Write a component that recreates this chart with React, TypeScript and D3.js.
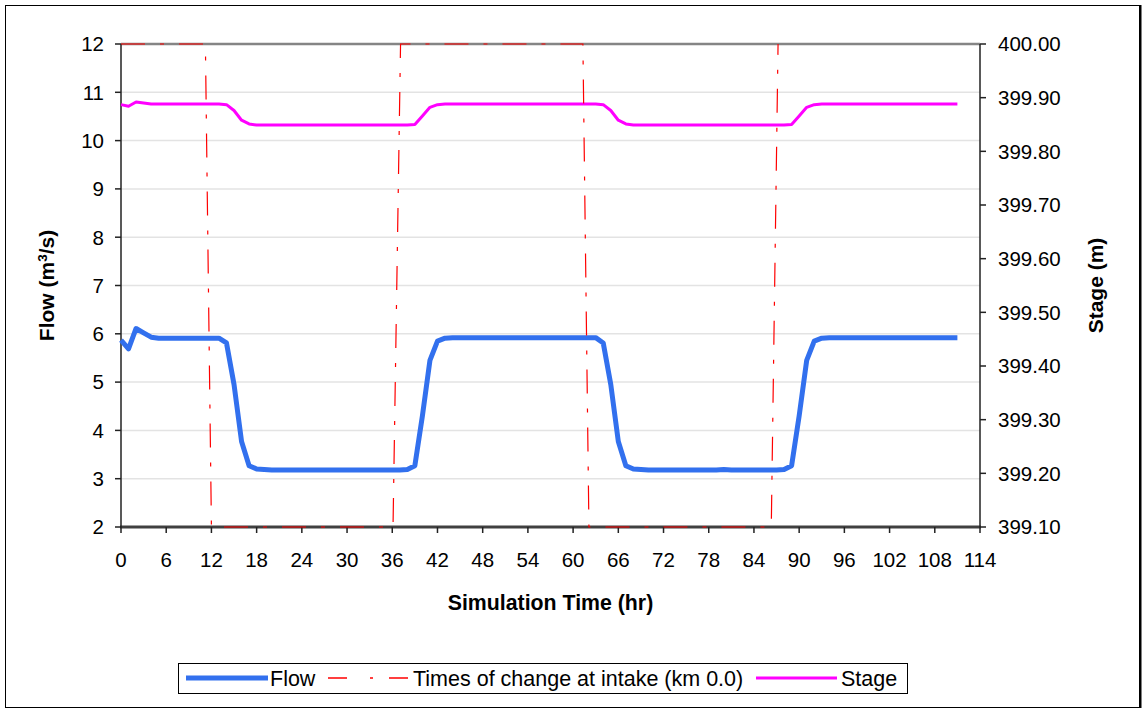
import React from "react";
import * as d3 from "d3";

// Hourly simulated flow at the intake (m3/s), hour = index
const flowValues: number[] = [
  5.87, 5.69, 6.11, 6.02, 5.93, 5.91, 5.91, 5.91, 5.91, 5.91,
  5.91, 5.91, 5.91, 5.91, 5.81, 4.95, 3.77, 3.27, 3.2, 3.19,
  3.18, 3.18, 3.18, 3.18, 3.18, 3.18, 3.18, 3.18, 3.18, 3.18,
  3.18, 3.18, 3.18, 3.18, 3.18, 3.18, 3.18, 3.18, 3.19, 3.27,
  4.3, 5.45, 5.85, 5.91, 5.92, 5.92, 5.92, 5.92, 5.92, 5.92,
  5.92, 5.92, 5.92, 5.92, 5.92, 5.92, 5.92, 5.92, 5.92, 5.92,
  5.92, 5.92, 5.92, 5.92, 5.81, 4.95, 3.77, 3.27, 3.2, 3.19,
  3.18, 3.18, 3.18, 3.18, 3.18, 3.18, 3.18, 3.18, 3.18, 3.18,
  3.19, 3.18, 3.18, 3.18, 3.18, 3.18, 3.18, 3.18, 3.19, 3.27,
  4.3, 5.45, 5.85, 5.91, 5.92, 5.92, 5.92, 5.92, 5.92, 5.92,
  5.92, 5.92, 5.92, 5.92, 5.92, 5.92, 5.92, 5.92, 5.92, 5.92,
  5.92, 5.92,
];

// Hourly water stage (m), hour = index
const stageValues: number[] = [
  399.887, 399.884, 399.892, 399.89, 399.888, 399.888, 399.888, 399.888, 399.888, 399.888,
  399.888, 399.888, 399.888, 399.888, 399.887, 399.876, 399.858, 399.851, 399.849, 399.849,
  399.849, 399.849, 399.849, 399.849, 399.849, 399.849, 399.849, 399.849, 399.849, 399.849,
  399.849, 399.849, 399.849, 399.849, 399.849, 399.849, 399.849, 399.849, 399.849, 399.85,
  399.866, 399.882, 399.887, 399.888, 399.888, 399.888, 399.888, 399.888, 399.888, 399.888,
  399.888, 399.888, 399.888, 399.888, 399.888, 399.888, 399.888, 399.888, 399.888, 399.888,
  399.888, 399.888, 399.888, 399.888, 399.887, 399.876, 399.858, 399.851, 399.849, 399.849,
  399.849, 399.849, 399.849, 399.849, 399.849, 399.849, 399.849, 399.849, 399.849, 399.849,
  399.849, 399.849, 399.849, 399.849, 399.849, 399.849, 399.849, 399.849, 399.849, 399.85,
  399.866, 399.882, 399.887, 399.888, 399.888, 399.888, 399.888, 399.888, 399.888, 399.888,
  399.888, 399.888, 399.888, 399.888, 399.888, 399.888, 399.888, 399.888, 399.888, 399.888,
  399.888, 399.888,
];

// Step marker for the times of change at the intake (km 0.0)
const changeTimes: number[] = [0, 11.2, 12, 36.1, 37.1, 61.3, 62.1, 86.3, 87.2];
const changeLevels: number[] = [12, 12, 2, 2, 12, 12, 2, 2, 12];

// Axis ticks
const xTicks: number[] = [0, 6, 12, 18, 24, 30, 36, 42, 48, 54, 60, 66, 72, 78, 84, 90, 96, 102, 108, 114];
const flowTicks: number[] = [2, 3, 4, 5, 6, 7, 8, 9, 10, 11, 12];
const stageTicks: number[] = [399.1, 399.2, 399.3, 399.4, 399.5, 399.6, 399.7, 399.8, 399.9, 400.0];

const FLOW_COLOR = "#3270ee";
const STAGE_COLOR = "#ff00ff";
const CHANGE_COLOR = "#ff0000";
const FONT = "'Liberation Sans', Arial, sans-serif";

export default function App() {
  const W = 1143;
  const H = 710;
  const left = 121;
  const right = 980;
  const top = 44;
  const bottom = 527;

  const x = d3.scaleLinear().domain([0, 114]).range([left, right]);
  const yFlow = d3.scaleLinear().domain([2, 12]).range([bottom, top]);
  const yStage = d3.scaleLinear().domain([399.1, 400.0]).range([bottom, top]);

  const flowLine = d3
    .line<number>()
    .x((_, i) => x(i))
    .y((d) => yFlow(d));
  const stageLine = d3
    .line<number>()
    .x((_, i) => x(i))
    .y((d) => yStage(d));
  const changeLine = d3
    .line<number>()
    .x((d) => x(d))
    .y((_, i) => yFlow(changeLevels[i]));

  const legendY = 678;
  const tickFont = 20.5;

  return (
    <div style={{ position: "absolute", left: 0, top: 0 }}>
      <svg width={W} height={H} style={{ display: "block", fontFamily: FONT }}>
        <rect x={0} y={0} width={W} height={H} fill="#fff" />
        {/* outer frame */}
        <rect x={5.5} y={5.5} width={1134} height={702} fill="none" stroke="#000" strokeWidth={1} />
        <line x1={1140.5} y1={5} x2={1140.5} y2={708} stroke="#000" strokeWidth={2} />

        {/* horizontal gridlines */}
        {flowTicks
          .filter((t) => t > 2 && t < 12)
          .map((t) => (
            <line key={"g" + t} x1={left} x2={right} y1={yFlow(t)} y2={yFlow(t)} stroke="#e3e3e3" strokeWidth={1.5} />
          ))}

        {/* plot borders */}
        <line x1={left} x2={right} y1={top} y2={top} stroke="#858585" strokeWidth={2.5} />
        <line x1={left - 1} x2={right + 1} y1={bottom} y2={bottom} stroke="#404040" strokeWidth={3} />
        <line x1={left} x2={left} y1={top} y2={bottom} stroke="#222" strokeWidth={1.5} />
        <line x1={right} x2={right} y1={top} y2={bottom} stroke="#222" strokeWidth={1.5} />

        {/* left axis ticks and labels */}
        {flowTicks.map((t) => (
          <g key={"fl" + t}>
            <line x1={left - 6} x2={left} y1={yFlow(t)} y2={yFlow(t)} stroke="#222" strokeWidth={1.5} />
            <text x={104} y={yFlow(t)} dy="0.36em" textAnchor="end" fontSize={tickFont} fill="#000">
              {t}
            </text>
          </g>
        ))}

        {/* right axis ticks and labels */}
        {stageTicks.map((t) => (
          <g key={"st" + t}>
            <line x1={right} x2={right + 6} y1={yStage(t)} y2={yStage(t)} stroke="#222" strokeWidth={1.5} />
            <text x={998} y={yStage(t)} dy="0.36em" textAnchor="start" fontSize={tickFont} fill="#000">
              {t.toFixed(2)}
            </text>
          </g>
        ))}

        {/* x axis ticks and labels */}
        {xTicks.map((t) => (
          <g key={"x" + t}>
            <line x1={x(t)} x2={x(t)} y1={bottom} y2={bottom + 6} stroke="#222" strokeWidth={1.5} />
            <text x={x(t)} y={567} textAnchor="middle" fontSize={tickFont} fill="#000">
              {t}
            </text>
          </g>
        ))}

        {/* axis titles */}
        <text x={(left + right) / 2} y={610} textAnchor="middle" fontSize={21.3} fontWeight="bold">
          Simulation Time (hr)
        </text>
        <text
          transform={`translate(54, ${(top + bottom) / 2}) rotate(-90)`}
          textAnchor="middle"
          fontSize={21}
          fontWeight="bold"
        >
          Flow (m<tspan dy={-7} fontSize={13.5}>3</tspan>
          <tspan dy={7}>/s)</tspan>
        </text>
        <text
          transform={`translate(1103, ${(top + bottom) / 2}) rotate(-90)`}
          textAnchor="middle"
          fontSize={21}
          fontWeight="bold"
        >
          Stage (m)
        </text>

        {/* series */}
        <path d={flowLine(flowValues) || ""} fill="none" stroke={FLOW_COLOR} strokeWidth={5} strokeLinejoin="round" />
        <path d={stageLine(stageValues) || ""} fill="none" stroke={STAGE_COLOR} strokeWidth={3} strokeLinejoin="round" />
        <path
          d={changeLine(changeTimes) || ""}
          fill="none"
          stroke={CHANGE_COLOR}
          strokeWidth={1.2}
          strokeDasharray="24,15,4,15"
        />

        {/* legend */}
        <rect x={178.5} y={663.5} width={729} height={30} fill="#fff" stroke="#000" strokeWidth={1} />
        <line x1={186} x2={268} y1={legendY} y2={legendY} stroke={FLOW_COLOR} strokeWidth={5} />
        <text x={270} y={686} fontSize={21.5} fill="#000">
          Flow
        </text>
        <line
          x1={328}
          x2={408}
          y1={legendY}
          y2={legendY}
          stroke={CHANGE_COLOR}
          strokeWidth={1.5}
          strokeDasharray="19,23,3,16,20"
        />
        <text x={413} y={686} fontSize={21.5} fill="#000">
          Times of change at intake (km 0.0)
        </text>
        <line x1={756} x2={837} y1={legendY} y2={legendY} stroke={STAGE_COLOR} strokeWidth={3} />
        <text x={841} y={686} fontSize={21.5} fill="#000">
          Stage
        </text>
      </svg>
    </div>
  );
}
